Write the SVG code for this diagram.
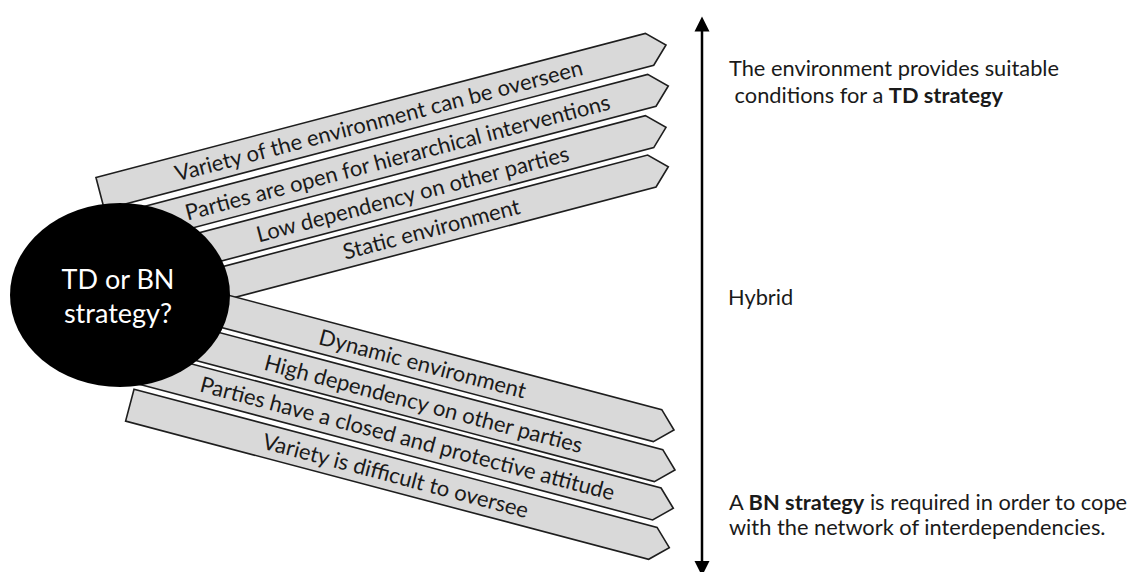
<svg xmlns="http://www.w3.org/2000/svg" width="1136" height="572" viewBox="0 0 1136 572">
  <style>
    .band { fill: #d9d9d9; stroke: #1e1e1e; stroke-width: 1.6; stroke-linejoin: miter; }
    .lbl { font-family: Lato, "Liberation Sans", sans-serif; font-size: 22px; fill: #1a1a1a; text-anchor: middle; }
    .side { font-family: Lato, "Liberation Sans", sans-serif; font-size: 21.8px; fill: #1a1a1a; }
    .hub { font-family: Lato, "Liberation Sans", sans-serif; font-size: 27px; fill: #ffffff; text-anchor: middle; }
    .axis { stroke: #000000; stroke-width: 2.5; fill: none; }
  </style>

  <!-- upper fan: conditions favouring a TD strategy -->
  <g id="arrow-variety-overseen" transform="translate(666 45) rotate(-14.7)">
    <polygon class="band" points="-585,-16.5 -17,-16.5 0,0 -17,16.5 -585,16.5"/>
    <text class="lbl" x="-297" y="8">Variety of the environment can be overseen</text>
  </g>
  <g id="arrow-open-parties" transform="translate(668.3 86) rotate(-14.7)">
    <polygon class="band" points="-585,-16.5 -17,-16.5 0,0 -17,16.5 -585,16.5"/>
    <text class="lbl" x="-280" y="8">Parties are open for hierarchical interventions</text>
  </g>
  <g id="arrow-low-dependency" transform="translate(666 127.3) rotate(-14.7)">
    <polygon class="band" points="-585,-16.5 -17,-16.5 0,0 -17,16.5 -585,16.5"/>
    <text class="lbl" x="-262" y="8">Low dependency on other parties</text>
  </g>
  <g id="arrow-static" transform="translate(668.3 166.7) rotate(-14.7)">
    <polygon class="band" points="-585,-16.5 -17,-16.5 0,0 -17,16.5 -585,16.5"/>
    <text class="lbl" x="-245" y="8">Static environment</text>
  </g>

  <!-- lower fan: conditions calling for a BN strategy -->
  <g id="arrow-dynamic" transform="translate(674 430) rotate(14.8)">
    <polygon class="band" points="-558,-16.5 -17,-16.5 0,0 -17,16.5 -558,16.5"/>
    <text class="lbl" x="-260" y="8">Dynamic environment</text>
  </g>
  <g id="arrow-high-dependency" transform="translate(675 470) rotate(14.8)">
    <polygon class="band" points="-558,-16.5 -17,-16.5 0,0 -17,16.5 -558,16.5"/>
    <text class="lbl" x="-260" y="8">High dependency on other parties</text>
  </g>
  <g id="arrow-closed-parties" transform="translate(673.3 508.3) rotate(14.8)">
    <polygon class="band" points="-558,-16.5 -17,-16.5 0,0 -17,16.5 -558,16.5"/>
    <text class="lbl" x="-275" y="8">Parties have a closed and protective attitude</text>
  </g>
  <g id="arrow-variety-difficult" transform="translate(669.3 547.7) rotate(14.8)">
    <polygon class="band" points="-558,-16.5 -17,-16.5 0,0 -17,16.5 -558,16.5"/>
    <text class="lbl" x="-283" y="8">Variety is difficult to oversee</text>
  </g>

  <!-- central question -->
  <g id="hub">
    <ellipse cx="120" cy="295" rx="110" ry="92" fill="#000000"/>
    <text class="hub" x="118" y="289">TD or BN</text>
    <text class="hub" x="118" y="323">strategy?</text>
  </g>

  <!-- vertical scale -->
  <g id="connectors">
    <line class="axis" x1="702" y1="562" x2="702" y2="30"/>
    <polygon points="702,16.5 694.5,31.5 709.5,31.5" fill="#000000"/>
    <polygon points="702,576 694.5,561 709.5,561" fill="#000000"/>
  </g>

  <g id="label-td">
    <text class="side" x="729" y="76">The environment provides suitable</text>
    <text class="side" x="729" y="103" xml:space="preserve"> conditions for a <tspan font-weight="bold">TD strategy</tspan></text>
  </g>
  <g id="label-hybrid">
    <text class="side" x="728" y="305">Hybrid</text>
  </g>
  <g id="label-bn">
    <text class="side" x="729" y="510">A <tspan font-weight="bold">BN strategy</tspan> is required in order to cope</text>
    <text class="side" x="729" y="535">with the network of interdependencies.</text>
  </g>
</svg>
